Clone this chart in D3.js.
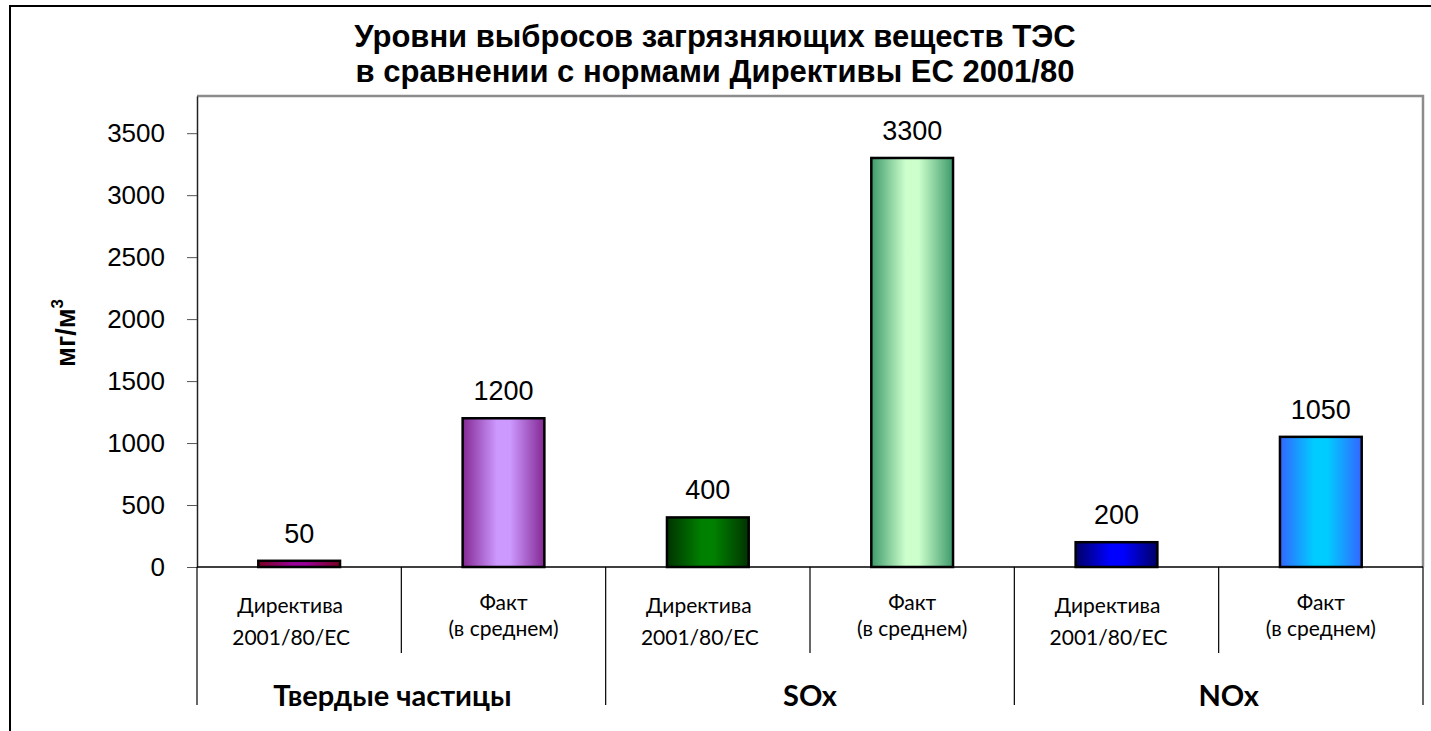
<!DOCTYPE html>
<meta charset=utf-8>
<style>
html, body { margin: 0; padding: 0; background: #fff }
svg { display: block }
</style>
<script src="https://cdn.jsdelivr.net/npm/d3@7"></script>
<body>
<svg width=1431 height=731 id=chart></svg>
</body>

<script>
// data
const groups = ["Твердые частицы", "SOx", "NOx"];
const catLine1 = ["Директива", "Факт", "Директива", "Факт", "Директива", "Факт"];
const catLine2 = ["2001/80/EC", "(в среднем)", "2001/80/EC", "(в среднем)", "2001/80/EC", "(в среднем)"];
const values = [50, 1200, 400, 3300, 200, 1050];
const yTicks = [0, 500, 1000, 1500, 2000, 2500, 3000, 3500];
// gradient colours per bar: edge, centre
const edgeColors = ["#7a0020", "#842893", "#003300", "#3e9a6b", "#000066", "#3366ff"];
const centerColors = ["#990099", "#cc99ff", "#008000", "#ccffcc", "#0000ff", "#00ccff"];

const svg = d3.select(chart);
const plot = {left: 197, right: 1423, top: 96, bottom: 567};
const arial = "'Liberation Sans', Arial, sans-serif";
const calibri = "Lato, 'Open Sans', sans-serif";
// the original labels are not quite centred
const groupNudge = [-9, 0, 10];

// outer frame
svg.append("rect")
	.attr("x", 10).attr("y", 6)
	.attr("width", 1440).attr("height", 740)
	.attr("fill", "none").attr("stroke", "#000").attr("stroke-width", 2);

// title
const title = svg.append("text")
	.attr("text-anchor", "middle")
	.attr("font-family", arial)
	.attr("font-weight", "bold")
	.attr("font-size", 31);
title.append("tspan").attr("x", 715).attr("y", 47).text("Уровни выбросов загрязняющих веществ ТЭС");
title.append("tspan").attr("x", 715).attr("y", 82).text("в сравнении с нормами Директивы ЕС 2001/80");

// scales
const x = d3.scaleBand()
	.domain(d3.range(values.length))
	.range([plot.left, plot.right])
	.paddingInner(0.6)
	.paddingOuter(0.3);
const y = d3.scaleLinear()
	.domain([0, 3800])
	.range([plot.bottom, plot.top]);

// gradients
const defs = svg.append("defs");
values.forEach((v, i) => {
	const g = defs.append("linearGradient")
		.attr("id", "grad" + i)
		.attr("x1", 0).attr("x2", 1).attr("y1", 0).attr("y2", 0);
	g.append("stop").attr("offset", 0).attr("stop-color", edgeColors[i]);
	g.append("stop").attr("offset", 0.42).attr("stop-color", centerColors[i]);
	g.append("stop").attr("offset", 0.58).attr("stop-color", centerColors[i]);
	g.append("stop").attr("offset", 1).attr("stop-color", edgeColors[i]);
});

// plot area border (top and right, gray)
svg.append("path")
	.attr("d", `M${plot.left},${plot.top}H${plot.right}V${plot.bottom}`)
	.attr("fill", "none")
	.attr("stroke", "#8c8c8c")
	.attr("stroke-width", 2.5);

// Y axis
svg.append("g")
	.attr("transform", `translate(${plot.left},0)`)
	.call(d3.axisLeft(y).tickValues(yTicks).tickFormat(d3.format("d")).tickSize(10).tickPadding(22).tickSizeOuter(0))
	.call(g => g.select(".domain").attr("stroke", "#222").attr("stroke-width", 1.5))
	.call(g => g.selectAll(".tick line").attr("stroke", "#555"))
	.call(g => g.selectAll(".tick text")
		.attr("font-family", arial)
		.attr("font-size", 26)
		.attr("fill", "#000"));

// Y axis title
const ytitle = svg.append("text")
	.attr("transform", "translate(75,333) rotate(-90)")
	.attr("text-anchor", "middle")
	.attr("font-family", arial)
	.attr("font-weight", "bold")
	.attr("font-size", 27);
ytitle.append("tspan").text("мг/м");
ytitle.append("tspan").attr("font-size", 17).attr("dy", -12).text("3");

// bars
svg.append("g")
	.selectAll("rect")
	.data(values)
	.join("rect")
		.attr("x", (d, i) => x(i))
		.attr("width", x.bandwidth())
		.attr("y", d => y(d))
		.attr("height", d => y(0) - y(d))
		.attr("fill", (d, i) => `url(#grad${i})`)
		.attr("stroke", "#000")
		.attr("stroke-width", 2.5);

// value labels
svg.append("g")
	.selectAll("text")
	.data(values)
	.join("text")
		.attr("x", (d, i) => x(i) + x.bandwidth() / 2)
		.attr("y", d => y(d) - 18)
		.attr("text-anchor", "middle")
		.attr("font-family", arial)
		.attr("font-size", 27)
		.text(d => d);

// X axis line
svg.append("line")
	.attr("x1", plot.left).attr("x2", plot.right)
	.attr("y1", y(0)).attr("y2", y(0))
	.attr("stroke", "#000").attr("stroke-width", 1.5);

// category dividers
const step = x.step();
const bounds = d3.range(values.length + 1).map(i => plot.left + i * step);
svg.append("g")
	.selectAll("line")
	.data(bounds)
	.join("line")
		.attr("x1", d => d).attr("x2", d => d)
		.attr("y1", y(0))
		.attr("y2", (d, i) => i % 2 === 0 ? 705 : 653)
		.attr("stroke", "#000")
		.attr("stroke-width", 1.2);

// category labels
const cat = svg.append("g")
	.attr("font-family", calibri)
	.attr("font-size", 21)
	.attr("text-anchor", "middle");
cat.selectAll("text.l1")
	.data(catLine1)
	.join("text")
		.attr("class", "l1")
		.attr("x", (d, i) => x(i) + x.bandwidth() / 2 - (i % 2 === 0 ? 9 : 0))
		.attr("y", (d, i) => i % 2 === 0 ? 613 : 610)
		.text(d => d);
cat.selectAll("text.l2")
	.data(catLine2)
	.join("text")
		.attr("class", "l2")
		.attr("x", (d, i) => x(i) + x.bandwidth() / 2 - (i % 2 === 0 ? 8 : 0))
		.attr("y", (d, i) => i % 2 === 0 ? 645 : 636)
		.text(d => d);

// group labels
svg.append("g")
	.selectAll("text")
	.data(groups)
	.join("text")
		.attr("x", (d, i) => (bounds[i * 2] + bounds[i * 2 + 2]) / 2 + groupNudge[i])
		.attr("y", 706)
		.attr("text-anchor", "middle")
		.attr("font-family", calibri)
		.attr("font-weight", "bold")
		.attr("font-size", 29)
		.text(d => d);
</script>
